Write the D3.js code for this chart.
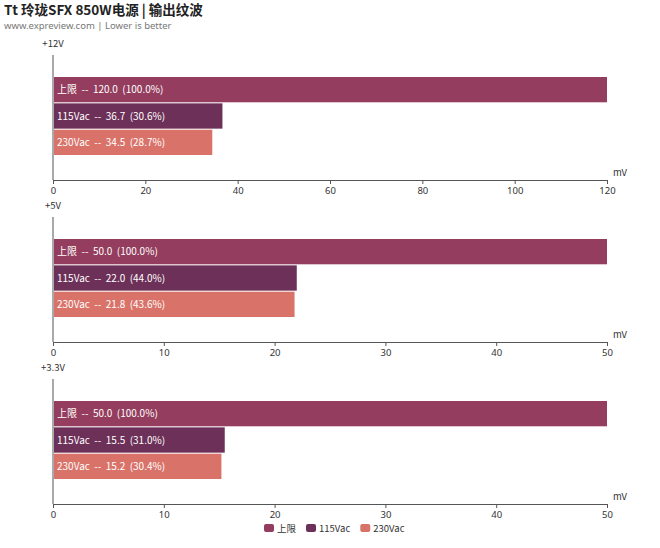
<!DOCTYPE html>
<html><head><meta charset="utf-8">
<script src="https://cdn.jsdelivr.net/npm/d3@7"></script>
<style>body{margin:0;background:#fff;font-family:"Noto Sans CJK SC","Noto Sans",sans-serif}</style>
</head><body><svg id="c" width="660" height="548"></svg>
<script>
const rails = ["+12V", "+5V", "+3.3V"];
const series = ["上限", "115Vac", "230Vac"];
const colors = ["#943d5e", "#6d3058", "#d9736a"];
const limits = [120, 50, 50];
const v115 = [36.7, 22.0, 15.5];
const v230 = [34.5, 21.8, 15.2];
const maxes = [120, 50, 50];
const tickSteps = [20, 10, 10];

const svg = d3.select("#c");
svg.append("text").attr("x", 4).attr("y", 15).attr("font-size", 13.5).attr("font-weight", "bold").attr("fill", "#222")
  .text("Tt 玲珑SFX 850W电源 | 输出纹波");
svg.append("text").attr("x", 4).attr("y", 29).attr("font-size", 9.5).attr("fill", "#777").attr("font-family", "Noto Sans")
  .text("www.expreview.com | Lower is better");

const x0 = 53, x1 = 607, panelTops = [55, 217, 379];

rails.forEach((rail, i) => {
  const top = panelTops[i], axisY = top + 125;
  const x = d3.scaleLinear().domain([0, maxes[i]]).range([x0, x1]);
  const y = d3.scaleBand().domain(series).range([top + 22, top + 100]).paddingInner(0.04);
  const g = svg.append("g");
  g.append("text").attr("x", 53).attr("y", top - 8).attr("text-anchor", "middle").attr("font-size", 9.5).attr("fill", "#333").text(rail);
  g.append("line").attr("x1", x0).attr("x2", x0).attr("y1", top).attr("y2", axisY).attr("stroke", "#555");
  const ax = g.append("g").attr("transform", `translate(0,${axisY})`)
    .call(d3.axisBottom(x).tickValues(d3.range(0, maxes[i] + 0.1, tickSteps[i])).tickSize(4));
  ax.select(".domain").attr("stroke", "#555");
  ax.selectAll("line").attr("stroke", "#555");
  ax.selectAll("text").attr("font-size", 9.5).attr("fill", "#333").attr("font-family", "Noto Sans");
  g.append("text").attr("x", 620).attr("y", axisY - 4).attr("text-anchor", "middle").attr("font-size", 9.5).attr("fill", "#333").text("mV");
  const vals = [limits[i], v115[i], v230[i]];
  series.forEach((s, j) => {
    g.append("rect").attr("x", x0 + 1).attr("y", y(s)).attr("width", x(vals[j]) - x0 - 1).attr("height", y.bandwidth()).attr("fill", colors[j]);
    g.append("text").attr("x", x0 + 4).attr("y", y(s) + y.bandwidth() / 2 + 3.5).attr("font-size", 10).attr("fill", "#fff")
      .attr("xml:space", "preserve")
      .text(`${s}  --  ${vals[j].toFixed(1)}  (${(vals[j] / limits[i] * 100).toFixed(1)}%)`);
  });
});

const leg = svg.append("g").attr("transform", "translate(264,528)");
let lx = 0;
series.forEach((s, j) => {
  leg.append("rect").attr("x", lx).attr("y", -4).attr("width", 10).attr("height", 8).attr("rx", 2).attr("fill", colors[j]);
  const t = leg.append("text").attr("x", lx + 13).attr("y", 3.5).attr("font-size", 9.5).attr("fill", "#333").text(s);
  lx += 13 + t.node().getComputedTextLength() + 10;
});
</script></body></html>
